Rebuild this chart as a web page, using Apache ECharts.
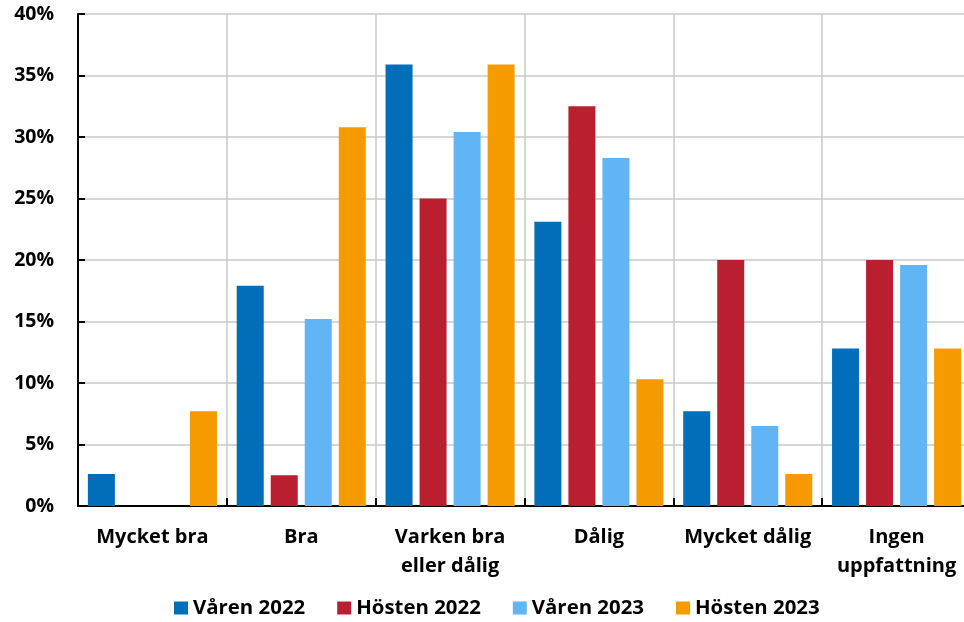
<!DOCTYPE html>
<html><head><meta charset="utf-8">
<script src="https://cdn.jsdelivr.net/npm/echarts@6/dist/echarts.min.js"></script>
<style>html,body{margin:0;padding:0;background:#fff}#c{width:964px;height:622px}</style>
</head><body><div id="c"></div>
<script>
const categories = ['Mycket bra', 'Bra', 'Varken bra\neller dålig', 'Dålig', 'Mycket dålig', 'Ingen\nuppfattning'];
const seriesNames = ['Våren 2022', 'Hösten 2022', 'Våren 2023', 'Hösten 2023'];
const varen2022 = [2.6, 17.9, 35.9, 23.1, 7.7, 12.8];
const hosten2022 = [0, 2.5, 25.0, 32.5, 20.0, 20.0];
const varen2023 = [0, 15.2, 30.4, 28.3, 6.5, 19.6];
const hosten2023 = [7.7, 30.8, 35.9, 10.3, 2.6, 12.8];
const colors = ['#006EB8', '#B91F2E', '#62B5F5', '#F59B00'];

const font = 'Open Sans';
const allData = [varen2022, hosten2022, varen2023, hosten2023];
const chart = echarts.init(document.getElementById('c'));
chart.setOption({
  animation: false,
  color: colors,
  grid: { left: 78, width: 893, top: 14, height: 492, containLabel: false, outerBoundsMode: 'none' },
  legend: {
    top: 598, left: 174, padding: 0, itemWidth: 14, itemHeight: 13, itemGap: 32,
    icon: 'rect',
    textStyle: { fontFamily: font, fontWeight: 'bold', fontSize: 20.4, color: '#000' },
    data: seriesNames
  },
  xAxis: {
    type: 'category', data: categories,
    axisLine: { lineStyle: { color: '#000', width: 2 } },
    axisTick: { show: true, inside: true, length: 8, lineStyle: { color: '#000', width: 2 } },
    splitLine: { show: true, lineStyle: { color: '#C8C8C8', width: 1.5 } },
    axisLabel: { fontFamily: font, fontWeight: 'bold', fontSize: 20, color: '#000', margin: 17, lineHeight: 29, interval: 0 }
  },
  yAxis: {
    type: 'value', min: 0, max: 40, interval: 5,
    axisLine: { show: true, lineStyle: { color: '#000', width: 2 } },
    axisTick: { show: true, inside: true, length: 7, lineStyle: { color: '#000', width: 2 } },
    splitLine: { show: true, lineStyle: { color: '#C8C8C8', width: 1.5 } },
    axisLabel: { formatter: '{value}%', fontFamily: font, fontWeight: 'bold', fontSize: 19.5, color: '#000', margin: 24 }
  },
  series: seriesNames.map((n, i) => ({
    name: n, type: 'bar', data: allData[i], barWidth: 27, barGap: '26%',
    itemStyle: { color: colors[i] }
  }))
});
</script></body></html>
